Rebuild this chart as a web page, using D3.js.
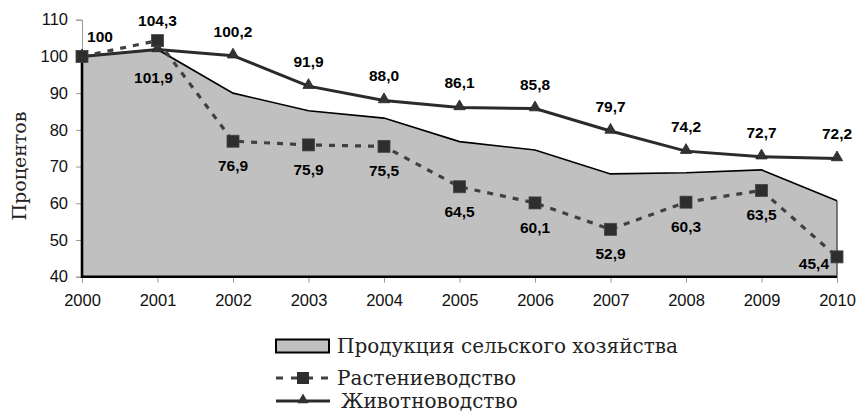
<!DOCTYPE html>
<html>
<head>
<meta charset="utf-8">
<script src="https://cdn.jsdelivr.net/npm/d3@7/dist/d3.min.js"></script>
<style>
  html, body { margin: 0; padding: 0; background: #fff; }
  svg { display: block; }
</style>
</head>
<body>
<svg id="chart" width="856" height="414"></svg>
<script>
// Years on the horizontal axis
const years = [2000, 2001, 2002, 2003, 2004, 2005, 2006, 2007, 2008, 2009, 2010];
// Agricultural output, total (area)
const totalOutput = [100, 101.9, 90.0, 85.2, 83.2, 76.8, 74.5, 68.0, 68.3, 69.1, 60.7];
// Crop production (dashed line, squares)
const cropValues = [100, 104.3, 76.9, 75.9, 75.5, 64.5, 60.1, 52.9, 60.3, 63.5, 45.4];
// Livestock production (solid line, triangles)
const livestockValues = [100, 101.9, 100.2, 91.9, 88.0, 86.1, 85.8, 79.7, 74.2, 72.7, 72.2];
// Value axis ticks
const yTicks = [40, 50, 60, 70, 80, 90, 100, 110];
// Series names
const seriesNames = ["Продукция сельского хозяйства", "Растениеводство", "Животноводство"];
const axisTitle = "Процентов";

const svg = d3.select("#chart");
const x = d3.scalePoint().domain(years).range([82, 837]);
const y = d3.scaleLinear().domain([40, 110]).range([276.7, 19.7]);

const sans = "Liberation Sans, Arial, sans-serif";
const serif = "DejaVu Serif, serif";

// Axes
const yAxis = svg.append("g").attr("transform", "translate(82,0)")
  .call(d3.axisLeft(y).tickValues(yTicks).tickSize(6).tickPadding(8).tickFormat(d3.format("d")));
yAxis.select(".domain").attr("stroke", "#999").attr("stroke-width", 1);
yAxis.selectAll(".tick line").attr("stroke", "#999");
yAxis.selectAll(".tick text").attr("font-family", sans).attr("font-size", 16.5).attr("fill", "#111");

const xAxis = svg.append("g").attr("transform", "translate(0,276.7)")
  .call(d3.axisBottom(x).tickSize(6).tickPadding(12).tickFormat(d3.format("d")));
xAxis.select(".domain").attr("stroke", "#999");
xAxis.selectAll(".tick line").attr("stroke", "#999");
xAxis.selectAll(".tick text").attr("font-family", sans).attr("font-size", 16.5).attr("fill", "#111");

// Total output area
const area = d3.area()
  .x((d, i) => x(years[i]))
  .y0(y(40))
  .y1(d => y(d));
svg.append("path")
  .datum(totalOutput)
  .attr("d", area)
  .attr("fill", "#c0c0c0")
  .attr("stroke", "none");
// Outline of the area: top edge plus left, bottom and right borders
const topLine = d3.line().x((d, i) => x(years[i])).y(d => y(d));
svg.append("path")
  .datum(totalOutput)
  .attr("d", topLine)
  .attr("fill", "none").attr("stroke", "#000").attr("stroke-width", 1.6);
svg.append("path")
  .attr("d", `M${x(years[0])},${y(totalOutput[0])}L${x(years[0])},${y(40)}L${x(years[years.length-1])},${y(40)}`)
  .attr("fill", "none").attr("stroke", "#000").attr("stroke-width", 2.6);
svg.append("path")
  .attr("d", `M${x(years[years.length-1])},${y(40)}L${x(years[years.length-1])},${y(totalOutput[totalOutput.length-1])}`)
  .attr("fill", "none").attr("stroke", "#333").attr("stroke-width", 1.2);

// Livestock line
svg.append("path")
  .datum(livestockValues)
  .attr("d", topLine)
  .attr("fill", "none").attr("stroke", "#2b2b2b").attr("stroke-width", 3);

// Crop line (dashed)
svg.append("path")
  .datum(cropValues)
  .attr("d", topLine)
  .attr("fill", "none").attr("stroke", "#404040").attr("stroke-width", 3.2)
  .attr("stroke-dasharray", "6,7");

const tri = d3.symbol().type(d3.symbolTriangle).size(55);
svg.append("g").selectAll("path")
  .data(livestockValues)
  .join("path")
  .attr("d", tri)
  .attr("transform", (d, i) => `translate(${x(years[i])},${y(d) - 1})`)
  .attr("fill", "#333").attr("stroke", "#222").attr("stroke-width", 0.8);

svg.append("g").selectAll("rect")
  .data(cropValues)
  .join("rect")
  .attr("x", (d, i) => x(years[i]) - 6)
  .attr("y", d => y(d) - 6)
  .attr("width", 12).attr("height", 12)
  .attr("fill", "#2e2e2e").attr("stroke", "#444").attr("stroke-width", 0.8);

// Value labels
const fmt = v => d3.format(".1f")(v).replace(".", ",");
const labelStyle = sel => sel.attr("font-family", sans).attr("font-size", 15.5)
  .attr("font-weight", "bold").attr("fill", "#000").attr("text-anchor", "middle");

// Livestock labels above the points (2001 label sits below)
svg.append("g").selectAll("text")
  .data(livestockValues.map((v, i) => ({ v, i })).filter(d => d.i > 0))
  .join("text")
  .call(labelStyle)
  .attr("x", d => x(years[d.i]) + (d.i === 1 ? -4 : 0))
  .attr("y", d => d.i === 1 ? y(d.v) + 34 : y(d.v) - 19)
  .text(d => fmt(d.v));

// Crop labels below the points (2001 label sits above)
svg.append("g").selectAll("text")
  .data(cropValues.map((v, i) => ({ v, i })).filter(d => d.i > 0))
  .join("text")
  .call(labelStyle)
  .attr("x", d => d.i === 10 ? x(years[d.i]) - 8 : x(years[d.i]))
  .attr("y", d => d.i === 1 ? y(d.v) - 15 : (d.i === 10 ? y(d.v) + 12.5 : y(d.v) + 30))
  .attr("text-anchor", d => d.i === 10 ? "end" : "middle")
  .text(d => fmt(d.v));

// Starting value label
svg.append("text").call(labelStyle)
  .attr("x", 100).attr("y", 42)
  .text(d3.format("d")(cropValues[0]));

// Axis title
svg.append("text")
  .attr("transform", "translate(26,166) rotate(-90)")
  .attr("text-anchor", "middle")
  .attr("font-family", serif).attr("font-size", 19).attr("fill", "#222")
  .text(axisTitle);

// Legend
const lg = svg.append("g");
const rows = [346, 378, 401];
lg.append("rect").attr("x", 276).attr("y", 339.5).attr("width", 53).attr("height", 13)
  .attr("fill", "#c0c0c0").attr("stroke", "#000").attr("stroke-width", 2);
lg.append("line").attr("x1", 276).attr("x2", 330).attr("y1", rows[1]).attr("y2", rows[1])
  .attr("stroke", "#404040").attr("stroke-width", 3.2).attr("stroke-dasharray", "7,8");
lg.append("rect").attr("x", 297).attr("y", rows[1] - 6).attr("width", 12).attr("height", 12)
  .attr("fill", "#2e2e2e");
lg.append("line").attr("x1", 276).attr("x2", 330).attr("y1", rows[2]).attr("y2", rows[2])
  .attr("stroke", "#2b2b2b").attr("stroke-width", 3);
lg.append("path").attr("d", tri).attr("transform", `translate(303,${rows[2] - 1})`)
  .attr("fill", "#333");
const lx = [337, 337, 341];
seriesNames.forEach((n, i) => {
  lg.append("text").attr("x", lx[i]).attr("y", rows[i] + 7)
    .attr("font-family", serif).attr("font-size", 20).attr("fill", "#222")
    .text(n);
});
</script>
</body>
</html>
